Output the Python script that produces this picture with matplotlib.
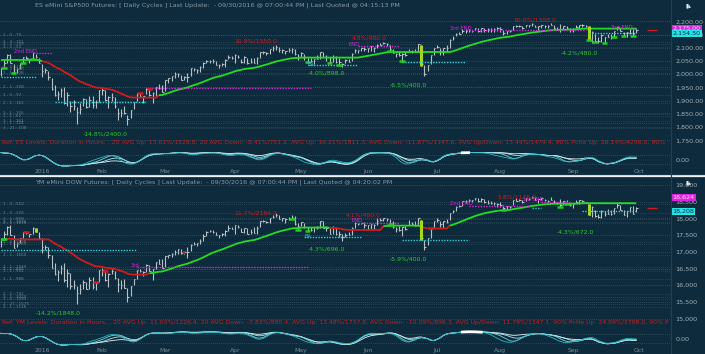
import numpy as np
import pandas as pd
import matplotlib
matplotlib.use('Agg')
import matplotlib.pyplot as plt
import matplotlib.transforms as mtransforms

#### Trading days shown on the chart
holidays = ['2015-12-25', '2016-01-01', '2016-01-18', '2016-02-15',
            '2016-03-25', '2016-05-30', '2016-07-04', '2016-09-05']
days = pd.bdate_range('2015-12-14', '2016-09-30')
days = days[~days.isin(pd.to_datetime(holidays))]
month_labels = ['2016', 'Feb', 'Mar', 'Apr', 'May', 'Jun', 'Jul', 'Aug', 'Sep', 'Oct']

#### ES data (daily high / low / close, Dec 2015 - Sep 2016)
es_close = [2021.9, 2043.4, 2073.1, 2041.9, 2005.6, 2021.2, 2038.9, 2064.3, 2061.0, 2056.5, 2078.4, 2063.4, 2043.9,
            2012.7, 2016.7, 1990.3, 1943.1, 1922.0, 1923.7, 1938.7, 1890.3, 1921.8, 1880.3, 1881.3, 1859.3, 1869.0, 1906.9, 1877.1, 1903.6, 1883.0, 1893.4, 1940.2,
            1939.4, 1903.0, 1912.5, 1915.4, 1880.1, 1853.4, 1852.2, 1851.9, 1829.1, 1864.8, 1895.6, 1926.8, 1917.8, 1917.8, 1945.5, 1921.3, 1929.8, 1951.7, 1948.1, 1932.2,
            1978.4, 1986.5, 1993.4, 2000.0, 2001.8, 1979.3, 1989.3, 1989.6, 2022.2, 2019.6, 2015.9, 2027.2, 2040.6, 2049.6, 2051.6, 2049.8, 2036.7, 2035.9, 2037.1, 2055.0, 2063.9, 2059.7,
            2072.8, 2066.1, 2045.2, 2066.7, 2041.9, 2047.6, 2042.0, 2061.7, 2082.4, 2082.8, 2080.7, 2094.3, 2100.8, 2102.4, 2091.5, 2091.6, 2087.8, 2091.7, 2095.2, 2075.8, 2065.3,
            2081.4, 2063.4, 2051.1, 2050.6, 2057.1, 2058.7, 2084.4, 2064.5, 2064.1, 2046.6, 2066.7, 2047.2, 2047.6, 2040.0, 2052.3, 2048.0, 2076.1, 2090.5, 2090.1, 2099.1, 2097.0,
            2099.3, 2105.3, 2099.1, 2109.4, 2112.1, 2119.1, 2115.5, 2096.1, 2079.1, 2075.3, 2071.5, 2078.0, 2071.2, 2083.3, 2088.9, 2085.5, 2113.3, 2037.3, 2000.5, 2036.1, 2070.8, 2098.9,
            2103.0, 2088.6, 2099.7, 2097.9, 2129.9, 2137.2, 2152.1, 2152.4, 2163.8, 2161.7, 2166.9, 2163.8, 2173.0, 2165.2, 2175.0, 2168.5, 2169.2, 2166.6, 2170.1, 2173.6,
            2170.8, 2157.0, 2163.8, 2164.3, 2182.9, 2180.9, 2181.7, 2175.5, 2185.8, 2184.1, 2190.2, 2178.2, 2182.2, 2187.0, 2183.9, 2182.6, 2186.9, 2175.4, 2172.5, 2169.0, 2180.4, 2176.1, 2171.0,
            2170.9, 2180.0, 2186.5, 2186.2, 2181.3, 2127.8, 2159.0, 2127.0, 2125.8, 2147.3, 2139.2, 2139.1, 2139.8, 2163.1, 2177.2, 2164.7, 2146.1, 2159.9, 2171.4, 2151.1, 2168.3]
es_high = [2022.9, 2053.9, 2076.7, 2076.4, 2040.0, 2022.9, 2042.7, 2064.7, 2067.4, 2057.7, 2081.6, 2077.3, 2062.5,
           2038.2, 2021.9, 2011.7, 1985.3, 1960.4, 1935.7, 1947.4, 1950.3, 1934.5, 1900.4, 1901.4, 1876.1, 1889.9, 1908.9, 1906.3, 1916.8, 1918.6, 1902.9, 1940.2,
           1947.2, 1939.3, 1918.0, 1927.4, 1913.1, 1873.6, 1868.3, 1881.6, 1846.0, 1864.8, 1895.8, 1930.7, 1930.1, 1918.8, 1949.0, 1945.0, 1932.1, 1951.8, 1962.9, 1958.2,
           1978.4, 1986.5, 1993.7, 2009.1, 2006.5, 1996.3, 1992.7, 2005.1, 2022.4, 2024.6, 2020.9, 2032.0, 2046.7, 2052.4, 2053.9, 2056.6, 2051.0, 2037.4, 2043.0, 2056.6, 2072.2, 2067.9,
           2075.1, 2074.0, 2056.0, 2067.3, 2062.9, 2060.6, 2062.3, 2065.1, 2083.1, 2087.8, 2083.2, 2095.6, 2104.9, 2111.1, 2103.9, 2094.0, 2088.7, 2099.9, 2099.9, 2094.0, 2077.2,
           2083.4, 2076.0, 2060.6, 2060.2, 2058.8, 2071.9, 2084.9, 2083.3, 2073.2, 2064.2, 2071.9, 2067.3, 2060.6, 2044.0, 2058.4, 2056.0, 2079.0, 2094.7, 2092.2, 2099.9, 2103.5,
           2100.2, 2105.3, 2103.5, 2113.4, 2119.2, 2120.6, 2118.1, 2109.0, 2095.3, 2081.6, 2083.9, 2079.6, 2085.1, 2093.7, 2091.9, 2094.0, 2113.3, 2112.0, 2035.7, 2036.1, 2073.1, 2098.9,
           2108.7, 2100.7, 2101.0, 2109.1, 2131.7, 2143.2, 2155.4, 2159.0, 2169.0, 2169.1, 2169.0, 2164.8, 2175.6, 2174.6, 2175.1, 2173.2, 2174.0, 2174.0, 2172.9, 2177.1,
           2178.3, 2168.1, 2163.8, 2168.2, 2182.9, 2185.4, 2187.7, 2183.4, 2185.8, 2186.3, 2193.8, 2187.0, 2183.5, 2187.0, 2185.0, 2185.2, 2193.4, 2186.7, 2179.0, 2187.9, 2183.5, 2182.2, 2175.3,
           2173.6, 2184.9, 2186.6, 2187.9, 2184.7, 2181.2, 2163.3, 2150.5, 2141.2, 2151.3, 2140.5, 2153.6, 2150.8, 2165.1, 2180.0, 2173.3, 2158.5, 2161.1, 2172.4, 2172.7, 2175.3]
es_low = [1993.3, 2025.4, 2042.4, 2041.7, 2005.1, 2005.9, 2020.5, 2042.4, 2058.9, 2044.2, 2056.9, 2061.9, 2043.6,
          1989.7, 2004.2, 1979.1, 1938.8, 1918.5, 1901.1, 1914.4, 1886.4, 1878.9, 1857.8, 1864.6, 1812.3, 1848.9, 1878.9, 1872.6, 1877.1, 1872.7, 1873.9, 1894.0,
          1920.0, 1897.8, 1872.7, 1900.5, 1872.6, 1828.5, 1838.8, 1850.3, 1810.1, 1833.4, 1868.7, 1898.8, 1915.1, 1891.0, 1924.2, 1918.1, 1891.0, 1917.8, 1945.1, 1931.8,
          1937.1, 1968.8, 1974.2, 1986.5, 1989.2, 1977.4, 1979.9, 1969.3, 1994.7, 2012.1, 2005.1, 2010.0, 2022.5, 2041.6, 2042.6, 2040.8, 2034.4, 2022.5, 2030.0, 2029.0, 2057.6, 2056.0,
          2043.1, 2060.6, 2042.2, 2042.6, 2039.7, 2041.9, 2041.1, 2039.7, 2062.9, 2078.1, 2073.1, 2075.3, 2088.5, 2091.5, 2085.3, 2080.0, 2077.5, 2084.2, 2082.0, 2072.0, 2054.9,
          2066.1, 2054.4, 2045.8, 2045.6, 2039.5, 2056.8, 2059.0, 2064.5, 2050.4, 2043.1, 2047.8, 2040.8, 2034.5, 2025.9, 2041.8, 2047.3, 2049.5, 2078.4, 2080.0, 2087.5, 2088.7,
          2085.1, 2088.6, 2085.2, 2100.9, 2110.0, 2112.9, 2107.0, 2089.5, 2078.9, 2064.5, 2070.3, 2050.4, 2069.3, 2083.3, 2080.8, 2084.0, 2085.0, 2032.1, 1991.7, 2014.0, 2036.9, 2074.0,
          2097.9, 2074.0, 2074.0, 2089.4, 2099.1, 2129.9, 2143.1, 2151.1, 2155.8, 2155.3, 2160.2, 2159.5, 2165.6, 2159.8, 2159.8, 2159.0, 2159.1, 2159.6, 2159.8, 2163.7,
          2159.1, 2149.6, 2152.6, 2159.1, 2168.7, 2178.4, 2178.1, 2172.0, 2177.5, 2179.4, 2184.0, 2178.2, 2168.5, 2175.5, 2175.4, 2175.1, 2186.8, 2171.3, 2168.9, 2160.4, 2170.2, 2170.4, 2161.0,
          2161.4, 2173.6, 2173.1, 2179.1, 2177.5, 2127.8, 2119.1, 2120.3, 2119.1, 2122.4, 2119.7, 2139.1, 2132.7, 2139.6, 2165.6, 2164.0, 2145.0, 2139.1, 2150.7, 2145.2, 2156.5]

#### YM data
ym_close = [17368, 17525, 17749, 17495, 17128, 17252, 17418, 17603, 17553, 17528, 17721, 17603, 17425,
            17149, 17158, 16907, 16515, 16347, 16399, 16517, 16152, 16380, 15988, 16016, 15767, 15882, 16094, 15886, 16167, 15944, 16070, 16466,
            16449, 16153, 16337, 16417, 16205, 16027, 16015, 15915, 15660, 15974, 16196, 16454, 16414, 16392, 16620, 16432, 16485, 16698, 16640, 16517,
            16866, 16900, 16944, 17007, 17074, 16965, 17001, 16996, 17213, 17230, 17252, 17326, 17481, 17602, 17624, 17583, 17503, 17516, 17536, 17634, 17717, 17685,
            17792, 17737, 17603, 17716, 17542, 17577, 17556, 17721, 17908, 17926, 17897, 18004, 18053, 18096, 17982, 18003, 17977, 17990, 18041, 17831, 17774,
            17891, 17751, 17651, 17660, 17740, 17705, 17928, 17711, 17720, 17535, 17711, 17530, 17526, 17435, 17501, 17493, 17706, 17851, 17829, 17873, 17787,
            17789, 17838, 17807, 17920, 17938, 18006, 17985, 17865, 17733, 17675, 17640, 17733, 17675, 17805, 17830, 17780, 18011, 17400, 17140, 17410, 17695, 17930,
            17949, 17841, 17919, 17896, 18147, 18227, 18348, 18372, 18506, 18517, 18534, 18559, 18595, 18517, 18571, 18493, 18473, 18472, 18456, 18432,
            18404, 18314, 18355, 18353, 18543, 18529, 18533, 18495, 18613, 18576, 18636, 18552, 18573, 18597, 18553, 18530, 18547, 18481, 18448, 18395, 18503, 18454, 18400,
            18419, 18492, 18538, 18526, 18480, 18085, 18326, 18067, 18034, 18212, 18124, 18120, 18130, 18294, 18392, 18261, 18094, 18228, 18339, 18144, 18308]
ym_high = [17400, 17627, 17784, 17792, 17496, 17254, 17422, 17603, 17606, 17546, 17750, 17720, 17590,
           17405, 17195, 17154, 16903, 16651, 16461, 16591, 16665, 16482, 16355, 16171, 15983, 16038, 16167, 16092, 16236, 16235, 16103, 16466,
           16510, 16437, 16352, 16487, 16416, 16204, 16157, 16180, 15904, 15981, 16197, 16470, 16486, 16414, 16649, 16619, 16486, 16699, 16796, 16795,
           16866, 16900, 16969, 17063, 17097, 17073, 17018, 17137, 17220, 17280, 17251, 17388, 17529, 17621, 17639, 17653, 17583, 17516, 17566, 17661, 17790, 17747,
           17793, 17794, 17698, 17716, 17715, 17694, 17727, 17758, 17917, 17952, 17927, 18009, 18104, 18168, 18097, 18005, 18003, 18025, 18089, 18064, 17873,
           17892, 17850, 17750, 17751, 17745, 17784, 17933, 17928, 17785, 17717, 17756, 17752, 17619, 17521, 17570, 17592, 17726, 17891, 17860, 17874, 17891,
           17791, 17839, 17839, 18003, 18003, 18016, 18005, 17982, 17910, 17732, 17762, 17745, 17762, 17946, 17877, 17920, 18011, 17947, 17355, 17411, 17709, 17930,
           18003, 17918, 17931, 17993, 18166, 18248, 18372, 18387, 18522, 18538, 18569, 18560, 18622, 18621, 18605, 18571, 18535, 18519, 18474, 18462,
           18486, 18405, 18355, 18374, 18543, 18612, 18584, 18546, 18614, 18597, 18668, 18636, 18580, 18614, 18566, 18562, 18640, 18558, 18496, 18565, 18512, 18550, 18457,
           18437, 18554, 18542, 18553, 18500, 18437, 18359, 18238, 18130, 18235, 18212, 18268, 18238, 18307, 18450, 18387, 18261, 18230, 18339, 18354, 18353]
ym_low = [17138, 17372, 17509, 17494, 17126, 17139, 17252, 17419, 17531, 17437, 17529, 17600, 17421,
          16957, 17039, 16817, 16507, 16315, 16127, 16335, 16104, 15944, 15900, 15901, 15451, 15747, 15884, 15879, 15880, 15879, 15861, 16090,
          16279, 16125, 15961, 16327, 16183, 15803, 15881, 15909, 15503, 15680, 15999, 16200, 16387, 16271, 16410, 16418, 16165, 16477, 16640, 16511,
          16545, 16817, 16853, 16912, 16945, 16947, 16946, 16822, 17015, 17197, 17163, 17237, 17326, 17481, 17579, 17572, 17491, 17402, 17465, 17474, 17635, 17684,
          17530, 17703, 17583, 17560, 17529, 17540, 17554, 17532, 17726, 17905, 17863, 17852, 17998, 18054, 17978, 17907, 17865, 17958, 17976, 17802, 17652,
          17774, 17706, 17628, 17636, 17580, 17687, 17709, 17711, 17613, 17531, 17535, 17508, 17440, 17332, 17438, 17489, 17499, 17708, 17792, 17819, 17703,
          17661, 17674, 17669, 17802, 17925, 17931, 17916, 17815, 17711, 17595, 17624, 17471, 17638, 17805, 17799, 17770, 17781, 17356, 17064, 17190, 17416, 17711,
          17886, 17735, 17713, 17848, 17951, 18150, 18227, 18325, 18372, 18459, 18495, 18497, 18533, 18489, 18499, 18462, 18431, 18416, 18393, 18350,
          18327, 18240, 18292, 18297, 18396, 18529, 18525, 18450, 18503, 18541, 18593, 18552, 18460, 18545, 18505, 18475, 18547, 18447, 18421, 18325, 18396, 18436, 18366,
          18300, 18463, 18431, 18502, 18447, 18085, 18028, 18032, 18012, 18001, 18060, 18116, 18090, 18123, 18294, 18250, 18088, 18031, 18198, 18136, 18185]

#### Cycle levels (dim labels on the left)
es_levels = [2148, 2123, 2113, 2104, 2028, 2019, 2006, 1953, 1922, 1890, 1853, 1842, 1823, 1815, 1798]
es_level_names = ['1 - 0 : 70', '2 - 3 : 151', '2 - 1 : 153', '3 - 1 : 53', '3 - 1 : 155', '2 - 1 : 156',
                  '1 - 1 : 108', '2 - 1 : 208', '1 - 0 : 92', '2 - 1 : 161', '1 - 1 : 155', '1 - 1 : 62',
                  '1 - 1 : 163', '1 - 1 : 124', '3 - 21 : 108']
ym_levels = [18428, 18150, 17971, 17899, 17852, 17302, 17233, 16904, 16537, 16477, 16426, 16178,
             15739, 15641, 15581, 15440, 15360]
ym_level_names = ['1 - 0 : 552', '1 - 0 : 226', '2 - 1 : 868', '3 - 1 : 1676', '2 - 1 : 1073',
                  '1 - 0 : 1658', '1 - 1 : 1263', '3 - 1 : 1660', '2 - 1 : 1549', '2 - 1 : 842',
                  '1 - 1 : 951', '1 - 1 : 988', '2 - 1 : 742', '3 - 1 : 1020', '1 - 0 : 1093',
                  '2 - 21 : 1575', '3 - 1 : 1128']

#### Trend flips of the trailing line
es_flips = [('2015-12-14', 'up'), ('2016-01-04', 'down'), ('2016-02-26', 'up')]
ym_flips = [('2015-12-14', 'up'), ('2015-12-16', 'down'), ('2016-02-23', 'up'), ('2016-05-13', 'down'),
            ('2016-06-08', 'up'), ('2016-06-24', 'down'), ('2016-07-08', 'up')]
es_trail_start = 2054
ym_trail_start = 17350

#### Swing targets / labels
es_targets = [('10.9%/1550.0', '2016-04-01', 2125, 'r'), ('4.8%/480.0', '2016-05-24', 2138, 'r'),
              ('10.0%/1308.0', '2016-08-05', 2205, 'r'), ('-14.8%/2400.0', '2016-01-22', 1774, 'g'),
              ('-4.0%/898.0', '2016-05-04', 2004, 'g'), ('-6.5%/400.0', '2016-06-10', 1960, 'g'),
              ('-4.2%/480.0', '2016-08-26', 2079, 'g')]
ym_targets = [('11.7%/2184.0', '2016-04-01', 18150, 'r'), ('4.1%/480.0', '2016-05-20', 18100, 'r'),
              ('5.8%/1176.0', '2016-07-29', 18628, 'r'), ('-14.2%/1848.0', '2015-12-30', 15171, 'g'),
              ('-4.3%/696.0', '2016-05-04', 17093, 'g'), ('-5.9%/400.0', '2016-06-10', 16785, 'g'),
              ('-4.3%/672.0', '2016-08-25', 17583, 'g')]
es_ends = [('2nd END', '2015-12-18', 2085), ('END', '2016-05-23', 2113),
           ('3rd END', '2016-07-08', 2173), ('3rd END', '2016-09-20', 2177)]
ym_ends = [('2nd END', '2016-07-08', 18449), ('3rd END', '2016-08-10', 18569),
           ('END', '2016-05-24', 17929), ('3rd', '2016-02-12', 16585)]
es_resist = [('2015-12-30', '2016-01-07', 2080), ('2016-05-26', '2016-06-15', 2107),
             ('2016-07-15', '2016-09-08', 2167), ('2016-09-28', '2016-09-30', 2170),
             ('2016-02-22', '2016-05-05', 1949)]
ym_resist = [('2016-07-18', '2016-08-12', 18377), ('2016-08-18', '2016-08-31', 18497),
             ('2016-05-26', '2016-06-15', 17852), ('2016-02-17', '2016-05-04', 16537)]
es_support = [('2015-12-14', '2015-12-30', 1988), ('2016-01-08', '2016-02-22', 1895),
              ('2016-05-04', '2016-05-26', 2035), ('2016-06-16', '2016-07-15', 2045),
              ('2016-09-09', '2016-09-30', 2154.5)]
ym_support = [('2015-12-14', '2016-02-17', 17054), ('2016-05-03', '2016-05-27', 17451),
              ('2016-06-16', '2016-07-18', 17353), ('2016-08-15', '2016-08-18', 18318),
              ('2016-09-07', '2016-09-30', 18208)]
es_ba = ('2016-05-04', 2035)
ym_ba = ('2016-05-03', 17451)
es_swing_lows = ['2015-12-15', '2015-12-18', '2015-12-23', '2015-12-29', '2016-05-04', '2016-05-13',
                 '2016-05-18', '2016-06-10', '2016-06-16', '2016-09-09', '2016-09-13', '2016-09-16',
                 '2016-09-21', '2016-09-26', '2016-09-29']
ym_swing_lows = ['2015-12-15', '2016-04-27', '2016-04-29', '2016-05-04', '2016-06-10', '2016-08-02',
                 '2016-08-26', '2016-08-30']
es_swing_highs = ['2016-02-18', '2016-02-23']
ym_swing_highs = ['2015-12-24', '2016-01-28', '2016-02-02', '2016-06-29']
es_hl_days = ['2016-06-24', '2016-09-09']
ym_hl_days = ['2015-12-30', '2016-06-24', '2016-09-09']
ym_red_days = ['2016-03-09']
es_last, es_mark = 2154.50, 2175.00
ym_last, ym_mark = 18208, 18624

es_title = 'ES eMini S&P500 Futures: [ Daily Cycles ] Last Update:  - 09/30/2016 @ 07:00:44 PM | Last Quoted @ 04:15:13 PM'
ym_title = 'YM eMini DOW Futures: [ Daily Cycles ] Last Update:  - 09/30/2016 @ 07:00:44 PM | Last Quoted @ 04:20:02 PM'
es_ref = ('Ref: ES Levels: Duration in Hours, , 20 AVG Up: 13.61%/1528.8, 20 AVG Down: -8.41%/751.2, '
          'AVG Up: 16.21%/1811.3, AVG Down: -11.67%/1147.6, AVG Up/Down: 13.44%/1479.4, '
          '90% Pctle Up: 26.14%/4296.0, 90%')
ym_ref = ('Ref: YM Levels: Duration in Hours, , 20 AVG Up: 11.03%/1226.4, 20 AVG Down: -7.83%/880.4, '
          'AVG Up: 13.48%/1737.8, AVG Down: -10.09%/896.3, AVG Up/Down: 11.79%/1347.1, '
          '90% Pctle Up: 24.89%/3798.0, 90% P')

#### Colours
BG = '#0d2b3c'
GRID = '#4a6676'
BAR = '#b9c0c4'
RED = '#d41a1a'
GREEN = '#22dd22'
MAG = '#d42ad4'
CYAN = '#2fd0d6'
TXT = '#8a98a2'

W, H = 705, 354
fig = plt.figure(figsize=(W / 100, H / 100), dpi=100, facecolor=BG)
plt.rcParams['font.family'] = ['DejaVu Sans']
x = np.arange(len(days))


def idx(d):
    return days.get_loc(pd.Timestamp(d))


def px_axes(x0, y0, x1, y1):
    ax = fig.add_axes([x0 / W, 1 - y1 / H, (x1 - x0) / W, (y1 - y0) / H])
    ax.set_facecolor('none')
    for s in ax.spines.values():
        s.set_visible(False)
    ax.set_xlim(-0.3, 211.7)
    return ax


def trail(close, seed, flips, span=30):
    a = 2.0 / (span + 1)
    ema = np.empty(len(close))
    e = seed
    for i, c in enumerate(close):
        e = e + a * (c - e)
        ema[i] = e
    fl = {idx(d): (1 if s == 'up' else -1) for d, s in flips}
    line = np.empty(len(close))
    trend = np.empty(len(close), dtype=int)
    cur = 1
    for i in range(len(close)):
        if i in fl:
            cur = fl[i]
            line[i] = seed if i == 0 else ema[i]
        elif cur > 0:
            line[i] = max(line[i - 1], ema[i])
        else:
            line[i] = min(line[i - 1], ema[i])
        trend[i] = cur
    return line, trend


def stoch(close, high, low, n, sm=4):
    c = pd.Series(close)
    hh = pd.Series(high).rolling(n, min_periods=1).max()
    ll = pd.Series(low).rolling(n, min_periods=1).min()
    k = ((c - ll) / (hh - ll) * 100).rolling(sm, min_periods=1).mean().rolling(sm, min_periods=1).mean()
    return (k * 2 - 100).to_numpy()


def panel(y0, y1, oy1, ylim, oylim, ticks, fmt, close, high, low, levels, level_names,
          flips, seed, targets, ends, resist, support, ba, lows, highs, hl_days, red_days,
          last, mark, title, ref, ref_y):
    close, high, low = np.array(close), np.array(high), np.array(low)
    ax = px_axes(0, y0, 670, y1)
    ax.set_ylim(*ylim)
    ax.set_xticks([])
    ax.yaxis.tick_right()
    ax.set_yticks(ticks)
    ax.set_yticklabels([fmt.format(t) for t in ticks])
    ax.tick_params(axis='y', length=0, pad=4, labelsize=4.6, labelcolor='#a3afb6')

    # dotted levels
    for t in ticks:
        ax.axhline(t, color=GRID, lw=0.5, ls=(0, (1, 2)))
    tr = mtransforms.blended_transform_factory(ax.transAxes, ax.transData)
    for p, nm in zip(levels, level_names):
        ax.axhline(p, color=GRID, lw=0.5, ls=(0, (1, 2)), alpha=0.8)
        ax.text(0.004, p, nm, transform=tr, fontsize=3.0, color='#6a808e', va='center')

    # price bars
    ax.vlines(x, low, high, color=BAR, lw=0.8)
    ax.hlines(close, x, x + 0.45, color=BAR, lw=0.8)
    for d in hl_days:
        i = idx(d)
        ax.vlines(i, low[i], high[i], color='#a6d61e', lw=2.2, zorder=4)
    for d in red_days:
        i = idx(d)
        ax.vlines(i, low[i], high[i], color=RED, lw=1.6, zorder=4)

    # trailing line
    line, trend = trail(close, seed, flips)
    start = 0
    for i in range(1, len(x) + 1):
        if i == len(x) or trend[i] != trend[start]:
            stop = min(i + 1, len(x))
            ax.plot(x[start:stop], line[start:stop], color=GREEN if trend[start] > 0 else RED,
                    lw=1.3, zorder=3, solid_capstyle='butt')
            start = i

    # swing markers
    for d in lows:
        i = idx(d)
        ax.hlines(low[i], i - 0.9, i + 0.9, color='#1fcf1f', lw=1.8, zorder=5)
    for d in highs:
        i = idx(d)
        ax.hlines(high[i], i - 0.9, i + 0.9, color=RED, lw=1.8, zorder=5)

    # support / resistance segments
    for a, b, p in support:
        ax.hlines(p, idx(a), idx(b), color=CYAN, lw=1.0, ls=(0, (1, 1)), zorder=4)
    for a, b, p in resist:
        ax.hlines(p, idx(a), idx(b), color=MAG, lw=1.0, ls=(0, (1, 1)), zorder=4)
    ax.text(idx(ba[0]), ba[1], 'BA', fontsize=3.6, color=CYAN, va='center', zorder=6)
    for t, d, p in ends:
        ax.text(idx(d), p, t, fontsize=3.8, color=MAG, va='center', zorder=6)
    for t, d, p, c in targets:
        ax.text(idx(d), p, t, fontsize=4.4, color=RED if c == 'r' else '#2ccc2c', va='center', zorder=6)

    # last price marks
    ax.hlines(close[-1], len(x) + 2.5, len(x) + 5.5, color=RED, lw=1.0)
    ax.text(1.004, mark, fmt.format(mark), transform=tr, fontsize=4.6, color='#f3d8f3',
            va='center', ha='left', clip_on=False, zorder=7,
            bbox=dict(boxstyle='square,pad=0.12', fc='#e025e0', ec='none'))
    ax.text(1.004, last, fmt.format(last), transform=tr, fontsize=4.6, color='#0b2432',
            va='center', ha='left', clip_on=False, zorder=7,
            bbox=dict(boxstyle='square,pad=0.12', fc='#22e6ea', ec='none'))

    ax.text(0.003, ref_y, ref, transform=ax.transAxes, fontsize=4.45, color='#c81e1e', va='center')
    fig.text(35 / W, 1 - (y0 + 5.5) / H, title, fontsize=4.6, color=TXT, va='center')
    fig.text(686 / W, 1 - (y0 + 6) / H, '\u25ae\u25b4', fontsize=4, color='#e8eef0', va='center')

    # oscillator
    ox = px_axes(0, y1, 670, oy1)
    ox.set_ylim(*oylim)
    ox.yaxis.tick_right()
    ox.set_yticks([0])
    ox.set_yticklabels(['0.00'])
    ox.tick_params(axis='y', length=0, pad=4, labelsize=4.6, labelcolor='#a3afb6')
    ox.set_xticks([np.where((days.month == m) & (days.year == 2016))[0][0] for m in range(1, 10)] + [len(x)])
    ox.set_xticklabels(month_labels)
    ox.tick_params(axis='x', length=0, pad=0.5, labelsize=4.4, labelcolor='#7d8b95')
    for v in (-60, 60):
        ox.axhline(v, color=GRID, lw=0.5, ls=(0, (1, 2)))
    cols = ['#e6f6f7', '#b5e8eb', '#74d4da', '#22b9c3']
    lines = [stoch(close, high, low, n) for n in (22, 18, 14, 10)]
    for v, c in zip(lines, cols):
        ox.plot(x, v, color=c, lw=0.6)
    fast = lines[-1]
    ox.plot(x, np.where(np.abs(fast) >= 90, fast, np.nan), color='white', lw=2.0)
    return ax


panel(0, 150, 168, (1713.9, 2280.4), (-106.5, 125.8), list(range(1750, 2250, 50)), '{:,.2f}',
      es_close, es_high, es_low, es_levels, es_level_names, es_flips, es_trail_start,
      es_targets, es_ends, es_resist, es_support, es_ba, es_swing_lows, es_swing_highs,
      es_hl_days, [], es_last, es_mark, es_title, es_ref, 0.047)
panel(177, 329, 347, (14693, 19235), (-106.7, 133), list(range(15000, 19500, 500)), '{:,.0f}',
      ym_close, ym_high, ym_low, ym_levels, ym_level_names, ym_flips, ym_trail_start,
      ym_targets, ym_ends, ym_resist, ym_support, ym_ba, ym_swing_lows, ym_swing_highs,
      ym_hl_days, ym_red_days, ym_last, ym_mark, ym_title, ym_ref, 0.046)

# separators
fig.add_artist(plt.Line2D([0, 1], [1 - 174.5 / H] * 2, color='#c9d2d6', lw=0.8))
fig.add_artist(plt.Line2D([0, 1], [1 - 176.5 / H] * 2, color='#eef2f3', lw=0.9))
fig.add_artist(plt.Line2D([670.5 / W] * 2, [0, 1], color='#22404f', lw=0.8))

fig.savefig('out.png', dpi=100, facecolor=BG)
